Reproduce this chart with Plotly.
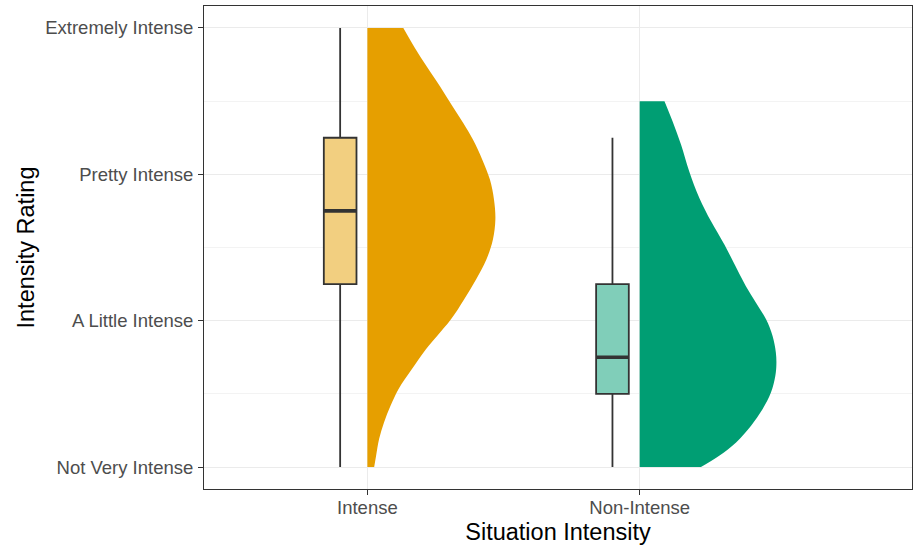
import plotly.graph_objects as go

# Groups and their positions on the x axis
categories = ["Intense", "Non-Intense"]
cat_pos = [1, 2]
violin_colors = ["#E69F00", "#009E73"]
box_fills = ["#F2CF80", "#80CEB9"]

# Rating scale
rating_vals = [1, 2, 3, 4]
rating_labels = ["Not Very Intense", "A Little Intense", "Pretty Intense", "Extremely Intense"]

# Box-plot summaries per group
whisker_low = [1.0, 1.0]
q1 = [2.25, 1.5]
median = [2.75, 1.75]
q3 = [3.25, 2.25]
whisker_high = [4.0, 3.25]

# Half-violin density profiles: rating value and half-width (x units)
intense_y = [4.0, 3.862, 3.736, 3.600, 3.475, 3.350, 3.236, 3.100, 2.964, 2.827,
             2.691, 2.555, 2.418, 2.282, 2.145, 2.009, 1.895, 1.805, 1.668, 1.532,
             1.418, 1.305, 1.191, 1.077, 1.0]
intense_w = [0.132, 0.175, 0.218, 0.267, 0.309, 0.352, 0.388, 0.422, 0.450, 0.465,
             0.470, 0.461, 0.437, 0.399, 0.355, 0.307, 0.256, 0.215, 0.163, 0.114,
             0.085, 0.061, 0.043, 0.032, 0.025]
nonintense_y = [3.5, 3.361, 3.202, 3.020, 2.839, 2.679, 2.520, 2.350, 2.236, 2.123,
                2.009, 1.895, 1.782, 1.702, 1.622, 1.509, 1.395, 1.282, 1.168, 1.077,
                1.0]
nonintense_w = [0.091, 0.121, 0.152, 0.182, 0.219, 0.262, 0.311, 0.358, 0.390, 0.427,
                0.464, 0.488, 0.500, 0.502, 0.498, 0.482, 0.451, 0.409, 0.354, 0.292,
                0.225]

profiles = [(intense_y, intense_w), (nonintense_y, nonintense_w)]

box_offset = -0.1
box_width = 0.12
edge = "#333333"

fig = go.Figure()

for i, name in enumerate(categories):
    pos = cat_pos[i]
    ys, ws = profiles[i]
    # straight baseline of the half violin
    fig.add_trace(go.Scatter(
        x=[pos] * len(ys), y=ys, mode="lines",
        line=dict(width=0, color=violin_colors[i]),
        showlegend=False, hoverinfo="skip"))
    # smooth density edge, filled back to the baseline
    fig.add_trace(go.Scatter(
        x=[pos + w for w in ws], y=ys, mode="lines",
        line=dict(width=0, shape="spline", smoothing=1, simplify=False,
                  color=violin_colors[i]),
        fill="tonextx", fillcolor=violin_colors[i],
        showlegend=False, name=name))

    bx = pos + box_offset
    fig.add_trace(go.Box(
        x=[bx], q1=[q1[i]], median=[median[i]], q3=[q3[i]],
        lowerfence=[whisker_low[i]], upperfence=[whisker_high[i]],
        width=box_width, whiskerwidth=0, boxpoints=False,
        fillcolor=box_fills[i], line=dict(color=edge, width=1.8),
        showlegend=False, name=name))
    # thicker median bar
    fig.add_trace(go.Scatter(
        x=[bx - box_width / 2, bx + box_width / 2], y=[median[i], median[i]],
        mode="lines", line=dict(color=edge, width=3.6),
        showlegend=False, hoverinfo="skip"))

font_family = "Liberation Sans, Arial, sans-serif"

fig.update_layout(
    width=914, height=550,
    margin=dict(l=204, r=2, t=6, b=61),
    plot_bgcolor="white", paper_bgcolor="white",
    font=dict(family=font_family),
    showlegend=False,
    xaxis=dict(
        range=[0.4, 3.0], tickvals=cat_pos, ticktext=categories,
        showgrid=True, gridcolor="#EBEBEB", gridwidth=1, zeroline=False,
        showline=True, linecolor=edge, linewidth=1, mirror=True,
        ticks="outside", ticklen=5, tickcolor=edge, ticklabelstandoff=-3,
        tickfont=dict(size=18.5, color="#4D4D4D"),
        title=dict(text="Situation Intensity", font=dict(size=23.5, color="black"), standoff=6),
    ),
    yaxis=dict(
        range=[0.85, 4.15], tickvals=rating_vals, ticktext=rating_labels,
        showgrid=True, gridcolor="#EBEBEB", gridwidth=1, zeroline=False,
        minor=dict(tickvals=[1.5, 2.5, 3.5], showgrid=True, gridcolor="#F3F3F3", gridwidth=1),
        showline=True, linecolor=edge, linewidth=1, mirror=True,
        ticks="outside", ticklen=5, tickcolor=edge, ticklabelstandoff=1,
        tickfont=dict(size=18.5, color="#4D4D4D"),
        title=dict(text="Intensity Rating", font=dict(size=23.5, color="black"), standoff=3),
    ),
)

fig.write_html("out.html")
